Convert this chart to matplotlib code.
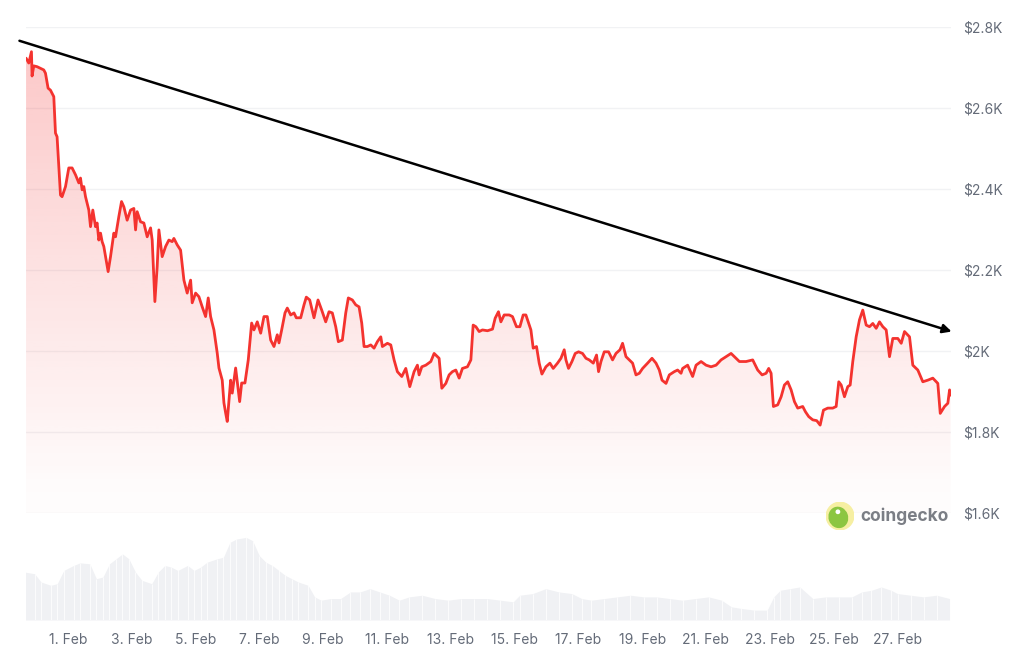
import numpy as np
import matplotlib
matplotlib.use("Agg")
import matplotlib.pyplot as plt
from matplotlib.patches import Circle, Ellipse, Polygon

# ---- price series (days since 1 Feb 00:00, USD) ----
price_days = [
    -1.308, -1.223, -1.139, -1.120, -1.066, -0.963, -0.856, -0.753, -0.700, -0.618,
    -0.543, -0.439, -0.386, -0.336, -0.282, -0.229, -0.179, -0.072, 0.031, 0.135,
    0.242, 0.345, 0.398, 0.449, 0.502, 0.555, 0.659, 0.712, 0.784, 0.869,
    0.919, 0.972, 1.026, 1.076, 1.129, 1.183, 1.264, 1.339, 1.443, 1.496,
    1.600, 1.684, 1.757, 1.860, 1.967, 2.070, 2.124, 2.174, 2.281, 2.384,
    2.488, 2.594, 2.645, 2.729, 2.801, 2.855, 2.958, 3.065, 3.168, 3.272,
    3.325, 3.429, 3.535, 3.639, 3.742, 3.849, 3.899, 4.006, 4.109, 4.213,
    4.319, 4.401, 4.476, 4.580, 4.683, 4.737, 4.840, 4.893, 4.947, 4.997,
    5.104, 5.154, 5.260, 5.342, 5.386, 5.449, 5.552, 5.656, 5.762, 5.834,
    5.938, 6.045, 6.148, 6.252, 6.358, 6.462, 6.565, 6.619, 6.703, 6.807,
    6.879, 6.986, 7.089, 7.161, 7.299, 7.403, 7.475, 7.582, 7.716, 7.842,
    7.958, 8.083, 8.187, 8.290, 8.397, 8.479, 8.604, 8.711, 8.792, 8.918,
    9.024, 9.128, 9.212, 9.285, 9.388, 9.495, 9.598, 9.702, 9.809, 9.859,
    10.016, 10.122, 10.226, 10.329, 10.467, 10.593, 10.718, 10.853, 10.957, 11.010,
    11.095, 11.220, 11.377, 11.481, 11.584, 11.637, 11.722, 11.847, 11.951, 12.054,
    12.161, 12.265, 12.368, 12.525, 12.632, 12.704, 12.789, 12.892, 12.996, 13.153,
    13.310, 13.394, 13.497, 13.573, 13.676, 13.833, 13.937, 14.062, 14.169, 14.272,
    14.357, 14.461, 14.514, 14.586, 14.690, 14.774, 14.859, 14.984, 15.110, 15.213,
    15.348, 15.455, 15.558, 15.612, 15.693, 15.800, 15.903, 16.007, 16.132, 16.239,
    16.342, 16.468, 16.571, 16.634, 16.710, 16.813, 16.948, 17.073, 17.180, 17.306,
    17.387, 17.494, 17.597, 17.701, 17.807, 17.911, 18.015, 18.171, 18.309, 18.435,
    18.538, 18.623, 18.748, 18.852, 19.008, 19.112, 19.219, 19.269, 19.426, 19.583,
    19.690, 19.847, 20.003, 20.160, 20.317, 20.474, 20.631, 20.787, 20.891, 21.048,
    21.258, 21.465, 21.622, 21.760, 21.885, 21.967, 22.042, 22.114, 22.249, 22.356,
    22.459, 22.563, 22.669, 22.773, 22.876, 23.033, 23.118, 23.221, 23.347, 23.472,
    23.579, 23.683, 23.818, 23.975, 24.081, 24.163, 24.238, 24.341, 24.445, 24.520,
    24.602, 24.708, 24.812, 24.915, 25.022, 25.125, 25.229, 25.335, 25.439, 25.543,
    25.649, 25.753, 25.856, 26.013, 26.120, 26.223, 26.380, 26.483, 26.640, 26.797,
    26.953, 27.110, 27.267, 27.343, 27.478, 27.581, 27.635, 27.666,
]
prices = [
    2723, 2711, 2739, 2679, 2704, 2702, 2698, 2694, 2686, 2649,
    2644, 2628, 2538, 2529, 2455, 2385, 2381, 2406, 2452, 2452,
    2435, 2415, 2427, 2398, 2406, 2381, 2348, 2307, 2348, 2307,
    2316, 2274, 2291, 2270, 2258, 2233, 2196, 2233, 2291, 2282,
    2332, 2369, 2356, 2323, 2348, 2352, 2299, 2344, 2319, 2316,
    2282, 2304, 2274, 2122, 2208, 2299, 2233, 2258, 2274, 2270,
    2278, 2262, 2249, 2175, 2143, 2175, 2119, 2143, 2134, 2109,
    2085, 2131, 2085, 2052, 1995, 1958, 1928, 1872, 1847, 1826,
    1928, 1896, 1958, 1904, 1875, 1921, 1921, 1978, 2069, 2052,
    2072, 2044, 2085, 2085, 2027, 2011, 2040, 2020, 2052, 2094,
    2106, 2089, 2094, 2082, 2082, 2114, 2133, 2126, 2082, 2126,
    2101, 2072, 2097, 2094, 2060, 2023, 2027, 2094, 2131, 2126,
    2114, 2109, 2069, 2011, 2011, 2015, 2007, 2023, 2035, 2011,
    2019, 2015, 1978, 1949, 1937, 1957, 1912, 1949, 1965, 1941,
    1961, 1965, 1974, 1994, 1986, 1982, 1908, 1920, 1941, 1949,
    1953, 1933, 1957, 1961, 1978, 2064, 2060, 2048, 2052, 2050,
    2054, 2081, 2097, 2072, 2089, 2089, 2085, 2060, 2060, 2089,
    2089, 2064, 2052, 2007, 2011, 1970, 1943, 1961, 1970, 1957,
    1970, 1982, 2003, 1978, 1957, 1974, 1994, 1998, 1994, 1982,
    1978, 1970, 1990, 1949, 1974, 1998, 1998, 1978, 1994, 2003,
    2019, 1986, 1978, 1970, 1941, 1945, 1957, 1970, 1982, 1970,
    1953, 1928, 1920, 1941, 1949, 1953, 1945, 1957, 1965, 1937,
    1965, 1974, 1965, 1961, 1965, 1978, 1986, 1994, 1986, 1974,
    1974, 1978, 1953, 1941, 1945, 1957, 1945, 1863, 1867, 1887,
    1916, 1924, 1904, 1875, 1859, 1863, 1850, 1838, 1830, 1828,
    1817, 1854, 1859, 1859, 1863, 1924, 1916, 1887, 1912, 1916,
    1974, 2035, 2077, 2101, 2064, 2060, 2068, 2056, 2072, 2060,
    2052, 1986, 2031, 2031, 2019, 2048, 2035, 1965, 1953, 1924,
    1928, 1933, 1920, 1846, 1863, 1871, 1904, 1891,
]

# ---- 24h trading volume (billions USD) ----
volume_days = [
    -1.349, -1.040, -0.838, -0.533, -0.330, -0.126, 0.181, 0.385, 0.692, 0.896,
    1.101, 1.305, 1.509, 1.713, 1.917, 2.120, 2.324, 2.631, 2.835, 3.039,
    3.243, 3.447, 3.754, 3.958, 4.162, 4.366, 4.673, 4.877, 5.081, 5.285,
    5.590, 5.794, 6.000, 6.205, 6.409, 6.613, 6.816, 7.020, 7.224, 7.531,
    7.735, 7.939, 8.244, 8.551, 8.858, 9.163, 9.470, 9.774, 10.082, 10.389,
    10.696, 11.104, 11.512, 11.920, 12.328, 12.735, 13.143, 13.551, 13.959, 14.163,
    14.570, 14.981, 15.389, 15.797, 16.104, 16.409, 16.816, 17.224, 17.632, 18.043,
    18.451, 18.858, 19.266, 19.674, 20.082, 20.489, 20.797, 21.104, 21.512, 21.920,
    22.124, 22.327, 22.635, 22.942, 23.350, 23.758, 24.165, 24.573, 24.881, 25.188,
    25.492, 25.800, 26.004, 26.412, 26.819, 27.227, 27.635,
]
volumes = [
    34.8, 33.6, 27.6, 25.2, 26.4, 36.0, 39.6, 41.5, 40.8, 30.0,
    31.2, 40.8, 44.4, 48.0, 44.4, 34.8, 28.8, 26.4, 34.8, 39.6,
    38.4, 36.0, 39.6, 36.0, 38.4, 42.0, 44.4, 45.6, 56.4, 58.8,
    60.0, 57.6, 46.8, 42.0, 39.6, 36.0, 32.4, 30.0, 27.6, 25.2,
    16.8, 14.4, 15.6, 15.6, 20.4, 20.4, 22.8, 20.4, 18.0, 14.4,
    16.8, 18.0, 15.6, 14.4, 15.6, 15.6, 15.6, 14.4, 13.2, 18.0,
    19.2, 22.8, 20.4, 19.2, 15.6, 14.4, 15.6, 16.8, 18.0, 16.8,
    16.8, 15.6, 14.4, 15.6, 16.8, 14.4, 9.6, 8.4, 7.2, 7.2,
    16.8, 21.6, 22.8, 24.0, 15.6, 16.8, 16.8, 16.8, 20.4, 21.6,
    24.0, 21.6, 19.2, 18.0, 16.8, 18.0, 15.6,
]

# ---- axis ticks ----
tick_days = [0, 2, 4, 6, 8, 10, 12, 14, 16, 18, 20, 22, 24, 26]
tick_labels = ["1. Feb", "3. Feb", "5. Feb", "7. Feb", "9. Feb", "11. Feb", "13. Feb",
               "15. Feb", "17. Feb", "19. Feb", "21. Feb", "23. Feb", "25. Feb", "27. Feb"]
price_ticks = [1600, 1800, 2000, 2200, 2400, 2600, 2800]
price_tick_labels = ["$1.6K", "$1.8K", "$2K", "$2.2K", "$2.4K", "$2.6K", "$2.8K"]

# trend arrow end points (day, price)
trend_start = (-1.515, 2766)
trend_end = (27.70, 2048)

plt.rcParams["font.family"] = ["Inter", "DejaVu Sans"]

W, H = 1021, 656
fig = plt.figure(figsize=(W / 100, H / 100), dpi=100)
fig.patch.set_facecolor("white")

xmin, xmax = -1.31, 27.68
ymin, ymax = 1600, 2800

def frac(px_left, px_top, px_w, px_h):
    return [px_left / W, 1 - (px_top + px_h) / H, px_w / W, px_h / H]

ax = fig.add_axes(frac(26, 27, 925, 486))
axv = fig.add_axes(frac(26, 536, 925, 84))

LINE = "#f4332f"
TXT = "#646b78"

# ---- price panel ----
ax.set_xlim(xmin, xmax)
ax.set_ylim(ymin, ymax)
for s in ax.spines.values():
    s.set_visible(False)
for p in price_ticks:
    ax.axhline(p, color="#f1f2f4", lw=1.0, zorder=0)

# gradient fill below the price line
grad_y = np.linspace(ymin, ymax, 256)
alpha = np.clip(0.10 + (grad_y - 2000) * 0.00024, 0.015, 1)
rgba = np.zeros((256, 1, 4))
rgba[..., 0] = 0xf4 / 255
rgba[..., 1] = 0x3b / 255
rgba[..., 2] = 0x3b / 255
rgba[..., 3] = alpha[:, None]
img = ax.imshow(rgba, extent=[xmin, xmax, ymin, ymax], origin="lower",
                aspect="auto", interpolation="bilinear", zorder=1)
poly_pts = np.column_stack([
    np.concatenate([[price_days[0]], price_days, [price_days[-1]]]),
    np.concatenate([[ymin], prices, [ymin]]),
])
clip_poly = Polygon(poly_pts, closed=True, transform=ax.transData,
                    facecolor="none", edgecolor="none")
ax.add_patch(clip_poly)
img.set_clip_path(clip_poly)

ax.plot(price_days, prices, color=LINE, lw=2.0, solid_joinstyle="round",
        solid_capstyle="round", zorder=3)

ax.annotate("", xy=trend_end, xytext=trend_start, xycoords="data",
            arrowprops=dict(arrowstyle="-|>", color="black", lw=1.8,
                            mutation_scale=13, shrinkA=0, shrinkB=0),
            annotation_clip=False, zorder=4)

ax.yaxis.tick_right()
ax.set_yticks(price_ticks)
ax.set_yticklabels(price_tick_labels)
ax.tick_params(axis="y", length=0, pad=9, labelsize=10, labelcolor=TXT)
ax.set_xticks([])

# ---- volume panel ----
axv.set_xlim(xmin, xmax)
axv.set_ylim(0, 61)
for s in axv.spines.values():
    s.set_visible(False)
vd = np.array(volume_days)
axv.fill_between(vd, volumes, 0, color="#f0f1f4", lw=0)
axv.vlines(vd, 0, volumes, color="white", lw=0.7, alpha=0.8)
axv.set_yticks([])
axv.set_xticks(tick_days)
axv.set_xticklabels(tick_labels)
axv.tick_params(axis="x", length=0, pad=9, labelsize=10, labelcolor=TXT)

# ---- coingecko mark ----
logo_ax = fig.add_axes(frac(826, 502, 28, 28))
logo_ax.set_xlim(-1, 1)
logo_ax.set_ylim(-1, 1)
logo_ax.set_aspect("equal")
logo_ax.axis("off")
logo_ax.add_patch(Circle((0, 0), 0.98, color="#f6efa2"))
logo_ax.add_patch(Ellipse((-0.12, -0.1), 1.3, 1.45, angle=20, color="#8cc641"))
logo_ax.add_patch(Circle((-0.15, 0.3), 0.12, color="white"))
fig.text(860 / W, 1 - 516 / H, "coingecko", fontsize=12.5, fontweight="bold",
         color="#7b7e85", va="center", ha="left")

fig.savefig("out.png", dpi=100, facecolor="white")
